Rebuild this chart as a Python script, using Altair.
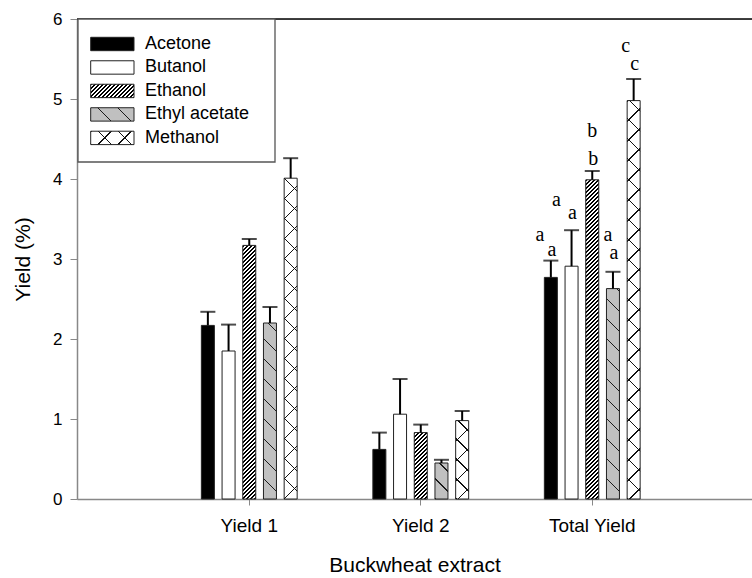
import altair as alt
import pandas as pd

# ---------------- data ----------------
groups = ["Yield 1", "Yield 2", "Total Yield"]
series = ["Acetone", "Butanol", "Ethanol", "Ethyl acetate", "Methanol"]
yield1 = [2.17, 1.85, 3.17, 2.20, 4.01]
yield1_err = [0.17, 0.33, 0.08, 0.20, 0.25]
yield2 = [0.62, 1.06, 0.83, 0.45, 0.98]
yield2_err = [0.21, 0.44, 0.10, 0.04, 0.12]
total = [2.77, 2.91, 3.99, 2.63, 4.98]
total_err = [0.21, 0.45, 0.11, 0.21, 0.27]
letters = ["a", "a", "b", "a", "c"]
letter_upper = [3.30, 3.74, 4.60, 3.30, 5.66]
letter_lower = [3.11, 3.58, 4.25, 3.08, 5.44]

# ---------------- layout / style ----------------
W, H = 675, 480
YMAX = 6
PX = H / YMAX
X_PAD_OUTER, X_ALIGN = 0.468, 0.539
step = W / (3 + 2 * X_PAD_OUTER)
OFF_STEP = 20.7
OFF_PI = 0.372
OFF_SPAN = 5 * OFF_STEP
OFF_RANGE = [(step - OFF_SPAN) / 2, (step + OFF_SPAN) / 2]
BAR_W = OFF_STEP * (1 - OFF_PI)
upper_dx = [-11, -15, 0, -5, -8]
lower_dx = 1
SANS = "Liberation Sans"
SERIF = "Liberation Serif"
CLEAR = "rgba(255,255,255,0)"

# pattern: (direction, period, thickness, fg, bg) or a plain colour
pattern_main = {
    "Acetone": "black",
    "Butanol": "white",
    "Ethanol": ("/", 4.0, 2.0, "black", "white"),
    "Ethyl acetate": ("\\", 20, 1.4, "#1a1a1a", "#c0c0c0"),
    "Methanol": ("/", 20, 1.4, "#111111", "white"),
}
pattern_over = {"Methanol": ("\\", 20, 1.4, "#111111", CLEAR)}


def stripes(w, h, pat):
    if isinstance(pat, str):
        return pat
    direction, period, thick, fg, bg = pat
    L = w + h
    c = L / (w * w + h * h)
    if direction == "/":
        x1, y1, x2, y2 = 0, 0, w * c, h * c
    else:
        x1, y1, x2, y2 = 0, 1, w * c, 1 - h * c
    stops = []
    i = 0
    while i * period <= L:
        a = round(i * period / L, 5)
        b = round(min((i * period + thick) / L, 1), 5)
        stops += [
            {"offset": a, "color": bg},
            {"offset": a, "color": fg},
            {"offset": b, "color": fg},
            {"offset": b, "color": bg},
        ]
        i += 1
    stops.append({"offset": 1, "color": bg})
    return {"gradient": "linear", "x1": x1, "y1": y1, "x2": x2, "y2": y2, "stops": stops}


rows = []
for g, vals, errs in zip(groups, [yield1, yield2, total], [yield1_err, yield2_err, total_err]):
    for s, v, e in zip(series, vals, errs):
        rows.append({"group": g, "series": s, "value": v, "err": e, "key": f"{g}|{s}"})
df = pd.DataFrame(rows)

let_df = pd.DataFrame({
    "group": ["Total Yield"] * 5,
    "series": series,
    "letter": letters,
    "upper": letter_upper,
    "lower": letter_lower,
})
frame_df = pd.DataFrame({"top": [YMAX]})
leg_df = pd.DataFrame({"series": series})
one_df = pd.DataFrame({"k": [0]})

# ---------------- encodings ----------------
x_enc = alt.X(
    "group:N", sort=groups,
    scale=alt.Scale(domain=groups, paddingInner=0, paddingOuter=X_PAD_OUTER, align=X_ALIGN),
    axis=alt.Axis(title="Buckwheat extract", labelAngle=0, labelFontSize=19, titleFontSize=21,
                  titleFontWeight="normal", tickSize=6, labelPadding=11, titlePadding=19,
                  domainWidth=1.5, tickWidth=1),
)
xo_enc = alt.XOffset("series:N", sort=series,
                     scale=alt.Scale(domain=series, range=OFF_RANGE,
                                     paddingInner=OFF_PI, paddingOuter=OFF_PI / 2))
y_axis = alt.Axis(title="Yield (%)", values=list(range(0, YMAX + 1)), grid=False, labelFontSize=17,
                  titleFontSize=21, titleFontWeight="normal", tickSize=7, labelPadding=8,
                  titlePadding=19, labelFlush=False, domainWidth=1.5, tickWidth=1)
y_scale = alt.Scale(domain=[0, YMAX], nice=False, zero=True)


def y_of(field):
    return alt.Y(f"{field}:Q", scale=y_scale, axis=y_axis)


def fill_for(dframe, pats, default):
    conds = []
    for _, r in dframe.iterrows():
        if r["series"] in pats:
            conds.append({"test": f"datum.key === '{r['key']}'",
                          "value": stripes(BAR_W, r["value"] * PX, pats[r["series"]])})
    return alt.FillValue(value=default, condition=conds)


bars = alt.Chart(df).mark_bar(stroke="#222222", strokeWidth=1).encode(
    x=x_enc, xOffset=xo_enc, y=y_of("value"),
    fill=fill_for(df, pattern_main, "white"),
)
meth = df[df["series"].isin(pattern_over.keys())]
bars_over = alt.Chart(df).transform_filter(
    alt.FieldOneOfPredicate(field="series", oneOf=list(pattern_over.keys()))
).mark_bar(strokeWidth=0).encode(
    x=x_enc, xOffset=xo_enc, y=y_of("value"),
    fill=fill_for(meth, pattern_over, CLEAR),
)

err_base = alt.Chart(df).transform_calculate(top="datum.value + datum.err")
err_line = err_base.mark_rule(color="black", strokeWidth=2).encode(
    x=x_enc, xOffset=xo_enc, y=y_of("value"), y2="top:Q")
err_cap = err_base.mark_tick(color="black", thickness=2, size=15, orient="horizontal").encode(
    x=x_enc, xOffset=xo_enc, y=y_of("top"))

letter_layers = []
for s, dx in zip(series, upper_dx):
    letter_layers.append(
        alt.Chart(let_df).transform_filter(alt.datum.series == s)
        .mark_text(font=SERIF, fontSize=20, baseline="middle", dx=dx, color="black")
        .encode(x=x_enc, xOffset=xo_enc, y=y_of("upper"), text="letter:N")
    )
letter_layers.append(
    alt.Chart(let_df).mark_text(font=SERIF, fontSize=20, baseline="middle", dx=lower_dx, color="black")
    .encode(x=x_enc, xOffset=xo_enc, y=y_of("lower"), text="letter:N")
)

top_rule = alt.Chart(frame_df).mark_rule(color="black", strokeWidth=1.3).encode(y=y_of("top"))

main = alt.layer(bars, bars_over, err_line, err_cap, *letter_layers, top_rule)

# ---------------- legend (drawn from the series list) ----------------
LEG_W, LEG_H = 43.3, 13.4
leg_y = alt.Y("series:N", sort=series,
              scale=alt.Scale(domain=series, range=[18.3, 125.6], paddingInner=0.43, paddingOuter=0),
              axis=None)


def leg_fill(pats, default):
    conds = [{"test": f"datum.series === '{s}'", "value": stripes(LEG_W, LEG_H, p)}
             for s, p in pats.items()]
    return alt.FillValue(value=default, condition=conds)


leg_box = alt.Chart(one_df).mark_rect(fill="white", stroke="#555555", strokeWidth=1.3).encode(
    x=alt.value(1), x2=alt.value(198), y=alt.value(0), y2=alt.value(143))
leg_sw = alt.Chart(leg_df).mark_rect(stroke="#222222", strokeWidth=1).encode(
    x=alt.value(13.7), x2=alt.value(57), y=leg_y, fill=leg_fill(pattern_main, "white"))
leg_sw2 = alt.Chart(leg_df).transform_filter(
    alt.FieldOneOfPredicate(field="series", oneOf=list(pattern_over.keys()))
).mark_rect(strokeWidth=0).encode(
    x=alt.value(13.7), x2=alt.value(57), y=leg_y, fill=leg_fill(pattern_over, CLEAR))
leg_txt = alt.Chart(leg_df).mark_text(align="left", baseline="middle", font=SANS, fontSize=18,
                                      color="black").encode(
    x=alt.value(68), y=leg_y, text="series:N")
legend = alt.layer(leg_box, leg_sw, leg_sw2, leg_txt)

chart = (
    alt.layer(main, legend)
    .resolve_scale(y="independent")
    .properties(width=W, height=H, autosize=alt.AutoSizeParams(type="none"),
                padding={"left": 77, "top": 19, "right": 0, "bottom": 79})
    .configure_view(stroke=None)
    .configure_axis(domainColor="black", tickColor="black", labelColor="black", titleColor="black",
                    labelFont=SANS, titleFont=SANS, titleFontWeight="normal")
    .configure(background="white")
)

chart.save("out.html", embed_options={"renderer": "svg", "actions": False})
